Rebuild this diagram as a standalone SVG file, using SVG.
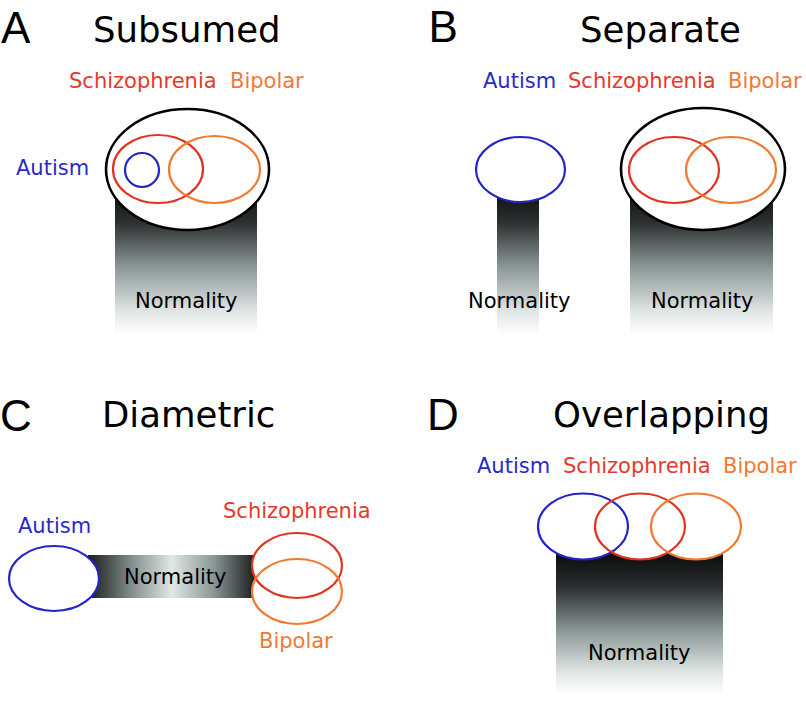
<svg xmlns="http://www.w3.org/2000/svg" width="806" height="701" viewBox="0 0 806 701">
<defs>
<linearGradient id="gv" x1="0" y1="0" x2="0" y2="1">
<stop offset="0" stop-color="#0a0a0a"/>
<stop offset="0.25" stop-color="#2c3030"/>
<stop offset="0.55" stop-color="#8c9898"/>
<stop offset="0.85" stop-color="#e2e8e6"/>
<stop offset="1" stop-color="#ffffff"/>
</linearGradient>
<linearGradient id="gh" x1="0" y1="0" x2="1" y2="0">
<stop offset="0" stop-color="#1a1a1a"/>
<stop offset="0.25" stop-color="#7f8a8a"/>
<stop offset="0.5" stop-color="#e0e7e5"/>
<stop offset="0.75" stop-color="#8a9595"/>
<stop offset="1" stop-color="#1a1a1a"/>
</linearGradient>
</defs>
<style>
.letter{font-family:"Liberation Sans",Arial,sans-serif;font-size:44px;fill:#000}
.title{font-family:"DejaVu Sans",sans-serif;font-size:35.5px;fill:#000}
.lab{font-family:"DejaVu Sans",sans-serif;font-size:21px}
.norm{fill:#000}
.tb{fill:#2a2ac4}
.tr{fill:#e6392a}
.to{fill:#f07a35}
.wf{fill:#fff;stroke:none}
.ek{fill:#fff;stroke:#000;stroke-width:2.6}
.eb{fill:none;stroke:#2424c8;stroke-width:2.2}
.er{fill:none;stroke:#e23322;stroke-width:2.2}
.eo{fill:none;stroke:#f07a30;stroke-width:2.2}
</style>

<g id="panelA">
<text class="letter" x="1" y="43">A</text>
<text class="title" x="93" y="42">Subsumed</text>
<g id="A-normality">
<rect x="115" y="185" width="142" height="150" fill="url(#gv)"/>
<text class="lab norm" x="135" y="308">Normality</text>
</g>
<g id="A-group">
<ellipse class="ek" cx="187.5" cy="169.5" rx="81.5" ry="60.5"/>
</g>
<g id="A-schizophrenia">
<ellipse class="er" cx="158" cy="169" rx="45" ry="34"/>
<text class="lab tr" x="69" y="88">Schizophrenia</text>
</g>
<g id="A-bipolar">
<ellipse class="eo" cx="214.5" cy="169.5" rx="45.5" ry="33.5"/>
<text class="lab to" x="230" y="88">Bipolar</text>
</g>
<g id="A-autism">
<circle class="eb" cx="142" cy="170" r="17"/>
<text class="lab tb" x="16" y="175">Autism</text>
</g>
</g>

<g id="panelB">
<text class="letter" x="428.5" y="42">B</text>
<text class="title" x="580" y="42">Separate</text>
<g id="B-autism">
<rect x="497" y="185" width="42" height="150" fill="url(#gv)"/>
<ellipse class="wf" cx="520.5" cy="169.5" rx="44.5" ry="32.5"/>
<ellipse class="eb" cx="520.5" cy="169.5" rx="44.5" ry="32.5"/>
<text class="lab tb" x="483" y="88">Autism</text>
<text class="lab norm" x="468" y="308">Normality</text>
</g>
<g id="B-group">
<rect x="630" y="185" width="143" height="150" fill="url(#gv)"/>
<ellipse class="ek" cx="703" cy="169" rx="82" ry="61"/>
<text class="lab norm" x="651" y="308">Normality</text>
</g>
<g id="B-schizophrenia">
<ellipse class="er" cx="674" cy="170" rx="45" ry="33"/>
<text class="lab tr" x="568" y="88">Schizophrenia</text>
</g>
<g id="B-bipolar">
<ellipse class="eo" cx="731" cy="170" rx="45" ry="33"/>
<text class="lab to" x="728" y="88">Bipolar</text>
</g>
</g>

<g id="panelC">
<text class="letter" x="0" y="431">C</text>
<text class="title" x="102" y="427">Diametric</text>
<g id="C-normality">
<rect x="88" y="555" width="168" height="43" fill="url(#gh)"/>
<text class="lab norm" x="124" y="584">Normality</text>
</g>
<g id="C-autism">
<ellipse class="wf" cx="54" cy="578.5" rx="45" ry="32.5"/>
<ellipse class="eb" cx="54" cy="578.5" rx="45" ry="32.5"/>
<text class="lab tb" x="18" y="533">Autism</text>
</g>
<ellipse class="wf" cx="297" cy="565.5" rx="45" ry="32.5"/>
<ellipse class="wf" cx="297" cy="591.5" rx="45" ry="32.5"/>
<g id="C-schizophrenia">
<ellipse class="er" cx="297" cy="565.5" rx="45" ry="32.5"/>
<text class="lab tr" x="223" y="518">Schizophrenia</text>
</g>
<g id="C-bipolar">
<ellipse class="eo" cx="297" cy="591.5" rx="45" ry="32.5"/>
<text class="lab to" x="259" y="648">Bipolar</text>
</g>
</g>

<g id="panelD">
<text class="letter" x="427" y="430">D</text>
<text class="title" x="553" y="427">Overlapping</text>
<g id="D-normality">
<rect x="556" y="552" width="167" height="143" fill="url(#gv)"/>
<text class="lab norm" x="588" y="660">Normality</text>
</g>
<ellipse class="wf" cx="583" cy="526.5" rx="45" ry="33"/>
<ellipse class="wf" cx="640" cy="526.5" rx="45" ry="33"/>
<ellipse class="wf" cx="696" cy="526.5" rx="45" ry="33"/>
<g id="D-autism">
<ellipse class="eb" cx="583" cy="526.5" rx="45" ry="33"/>
<text class="lab tb" x="477" y="473">Autism</text>
</g>
<g id="D-schizophrenia">
<ellipse class="er" cx="640" cy="526.5" rx="45" ry="33"/>
<text class="lab tr" x="563" y="473">Schizophrenia</text>
</g>
<g id="D-bipolar">
<ellipse class="eo" cx="696" cy="526.5" rx="45" ry="33"/>
<text class="lab to" x="723" y="473">Bipolar</text>
</g>
</g>
<g id="connectors"/>
</svg>
